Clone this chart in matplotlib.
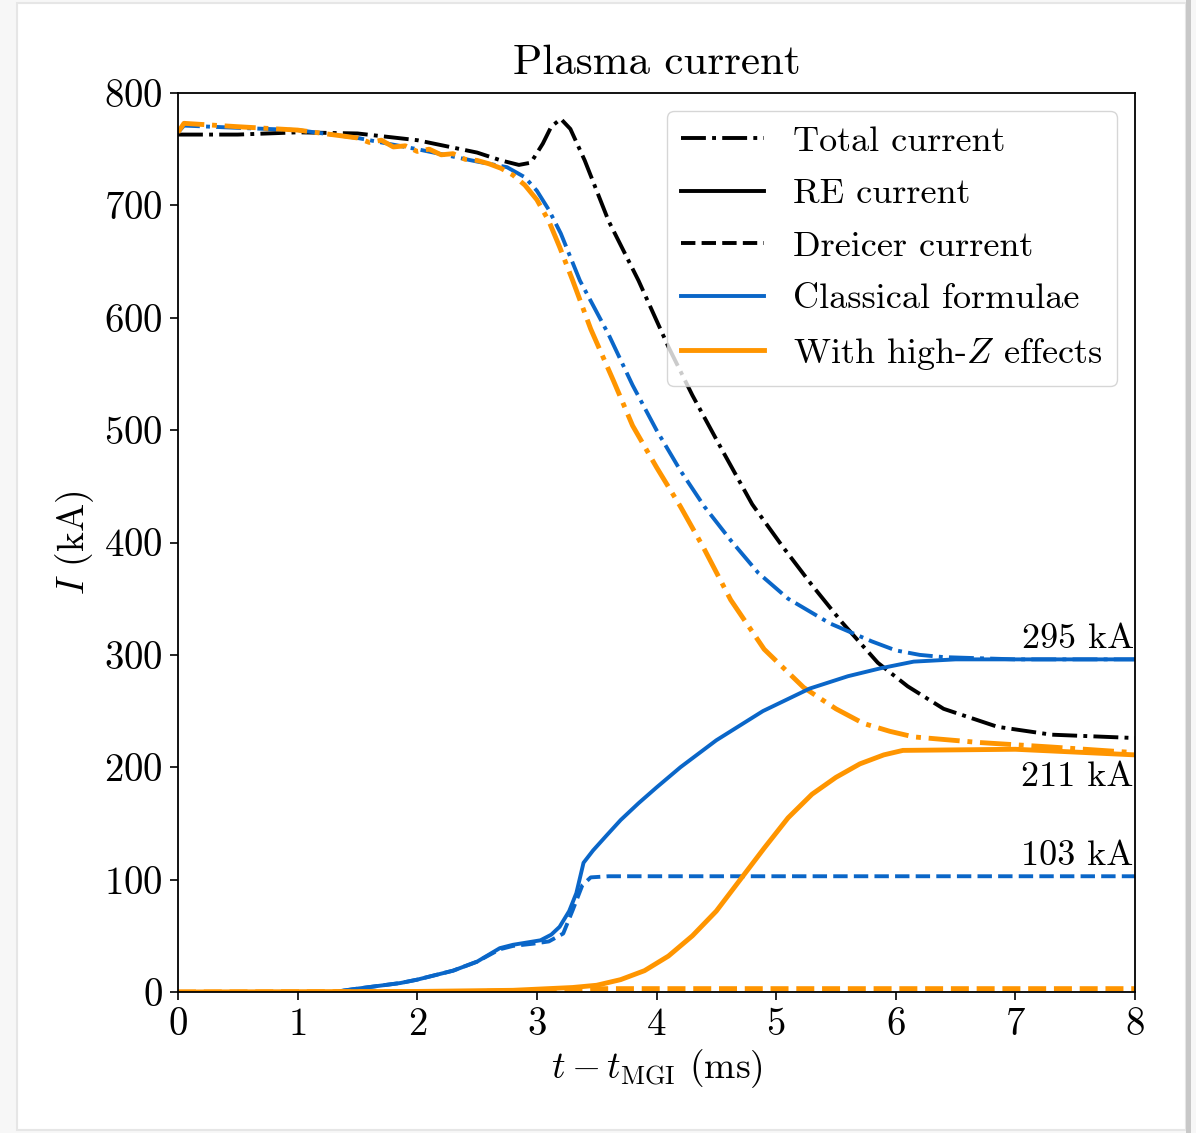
import matplotlib
matplotlib.use("Agg")
import matplotlib.pyplot as plt
from matplotlib.lines import Line2D
from matplotlib.patches import Rectangle

plt.rcParams['font.family'] = ['cmr10']
plt.rcParams['mathtext.fontset'] = 'cm'
plt.rcParams['axes.formatter.use_mathtext'] = True
plt.rcParams['axes.unicode_minus'] = False

BLUE = '#0a66c8'
ORANGE = '#ff9500'

# Total current (black dash-dot)
t_tot = [0, 0.5, 1.0, 1.5, 2.0, 2.5, 2.7, 2.85, 2.95, 3.05, 3.12, 3.2, 3.28, 3.4, 3.6,
         3.85, 4.1, 4.3, 4.55, 4.8, 5.05, 5.3, 5.55, 5.85, 6.1, 6.4, 6.85, 7.3, 8.0]
I_tot = [763, 763, 765, 764, 758, 747, 740, 736, 738, 755, 770, 777, 768, 740, 686,
         633, 574, 531, 482, 434, 397, 362, 329, 293, 272, 252, 236, 229, 226]

# Classical formulae, total current (blue dash-dot)
t_cl_tot = [0, 0.05, 0.5, 1.0, 1.5, 2.0, 2.5, 2.75, 2.9, 3.0, 3.1, 3.2, 3.36, 3.6, 3.8, 4.0,
            4.2, 4.4, 4.62, 4.85, 5.1, 5.45, 5.8, 6.0, 6.2, 6.4, 7.0, 8.0]
I_cl_tot = [765, 771, 769, 767, 760, 750, 739, 734, 725, 713, 696, 675, 633, 585, 540, 500,
            464, 432, 402, 373, 350, 328, 312, 304, 300, 298, 296, 296]

# High-Z, total current (orange dash-dot)
t_hz_tot = [0, 0.05, 0.5, 1.0, 1.5, 1.6, 1.7, 1.8, 1.9, 2.0, 2.1, 2.2, 2.3, 2.4, 2.5, 2.6,
            2.7, 2.8, 2.9, 3.0, 3.1, 3.19, 3.3, 3.45, 3.64, 3.8, 4.0, 4.2, 4.39, 4.62, 4.9,
            5.23, 5.5, 5.73, 5.95, 6.15, 6.7, 7.3, 8.0]
I_hz_tot = [765, 773, 770, 767, 760, 756, 758, 752, 753, 748, 750, 745, 746, 741, 740, 737,
            733, 727, 718, 705, 686, 663, 633, 590, 544, 504, 467, 432, 396, 349, 305,
            271, 252, 239, 232, 227, 222, 218, 213]

# Classical RE current (blue solid)
t_cl_re = [0, 1.3, 1.5, 1.86, 2.0, 2.3, 2.5, 2.69, 2.8, 3.03, 3.12, 3.19, 3.27, 3.33, 3.39,
           3.47, 3.58, 3.7, 3.85, 4.0, 4.2, 4.5, 4.89, 5.28, 5.6, 5.87, 6.15, 6.5, 7.0, 8.0]
I_cl_re = [0, 0, 3, 8, 11, 19, 27, 39, 42, 46, 51, 58, 72, 88, 115,
           126, 139, 153, 168, 182, 200, 224, 250, 270, 281, 288, 294, 296, 296, 296]

# Classical Dreicer current (blue dashed)
t_cl_dr = [0, 1.3, 1.5, 1.86, 2.0, 2.3, 2.5, 2.69, 2.8, 2.97, 3.1, 3.22, 3.3, 3.38, 3.45,
           3.6, 8.0]
I_cl_dr = [0, 0, 3, 8, 11, 19, 27, 38, 41, 43, 45, 52, 73, 95, 102, 103, 103]

# High-Z RE current (orange solid)
t_hz_re = [0, 2.0, 2.8, 3.3, 3.5, 3.7, 3.9, 4.1, 4.3, 4.5, 4.7, 4.9, 5.1, 5.3, 5.5, 5.7,
           5.9, 6.06, 7.0, 8.0]
I_hz_re = [0, 0.5, 1.5, 4, 6, 11, 19, 32, 50, 72, 100, 128, 155, 176, 191, 203,
           211, 215, 216, 211]

# High-Z Dreicer current (orange dashed)
t_hz_dr = [0, 2.5, 3.0, 3.3, 3.6, 8.0]
I_hz_dr = [0, 0.5, 1.5, 2.5, 3, 3]

final_labels = ['295 kA', '211 kA', '103 kA']

fig = plt.figure(figsize=(11.96, 11.33), dpi=100)
fig.patch.set_facecolor('#f7f7f7')
fig.add_artist(Rectangle((17 / 1196, 3 / 1133), (1186 - 17) / 1196, (1130 - 3) / 1133,
                         transform=fig.transFigure, facecolor='white',
                         edgecolor='#e6e6e6', lw=1.5, zorder=-10))
fig.add_artist(Rectangle((1186 / 1196, 0), 5 / 1196, 1,
                         transform=fig.transFigure, facecolor='#c8c8c8',
                         edgecolor='none', zorder=-9))

ax = fig.add_axes([178 / 1196, 1 - 992 / 1133, (1135 - 178) / 1196, (992 - 93) / 1133])

lw = 2.8
lwo = 3.5
ax.plot(t_tot, I_tot, color='black', ls='-.', lw=lw)
ax.plot(t_cl_tot, I_cl_tot, color=BLUE, ls='-.', lw=lw)
ax.plot(t_hz_tot, I_hz_tot, color=ORANGE, ls='-.', lw=lwo)
ax.plot(t_cl_re, I_cl_re, color=BLUE, ls='-', lw=lw)
ax.plot(t_cl_dr, I_cl_dr, color=BLUE, ls='--', lw=lw)
ax.plot(t_hz_re, I_hz_re, color=ORANGE, ls='-', lw=lwo)
ax.plot(t_hz_dr, I_hz_dr, color=ORANGE, ls='--', lw=lwo)

fs_ann = 26
ax.text(7.99, 300, final_labels[0], ha='right', va='bottom', fontsize=fs_ann)
ax.text(7.99, 205, final_labels[1], ha='right', va='top', fontsize=fs_ann)
ax.text(7.99, 107, final_labels[2], ha='right', va='bottom', fontsize=fs_ann)

ax.set_xlim(0, 8)
ax.set_ylim(0, 800)
ax.set_xticks(range(0, 9))
ax.set_yticks(range(0, 801, 100))
ax.tick_params(labelsize=28, length=6, width=1.2, direction='out', pad=5)
for s in ax.spines.values():
    s.set_linewidth(1.3)

ax.set_title('Plasma current', fontsize=31, pad=14)
ax.set_xlabel(r'$t - t_{\mathrm{MGI}}$ (ms)', fontsize=27, labelpad=3)
ax.set_ylabel(r'$I$ (kA)', fontsize=27, labelpad=6)

handles = [
    Line2D([], [], color='black', ls='-.', lw=lw),
    Line2D([], [], color='black', ls='-', lw=lw),
    Line2D([], [], color='black', ls='--', lw=lw),
    Line2D([], [], color=BLUE, ls='-', lw=lw),
    Line2D([], [], color=ORANGE, ls='-', lw=lwo),
]
labels = ['Total current', 'RE current', 'Dreicer current', 'Classical formulae',
          r'With high-$Z$ effects']
ax.legend(handles, labels, loc='upper right', fontsize=26, handlelength=2.3,
          labelspacing=0.56, borderaxespad=0.5, handletextpad=0.8)

fig.savefig('out.png', dpi=100)
